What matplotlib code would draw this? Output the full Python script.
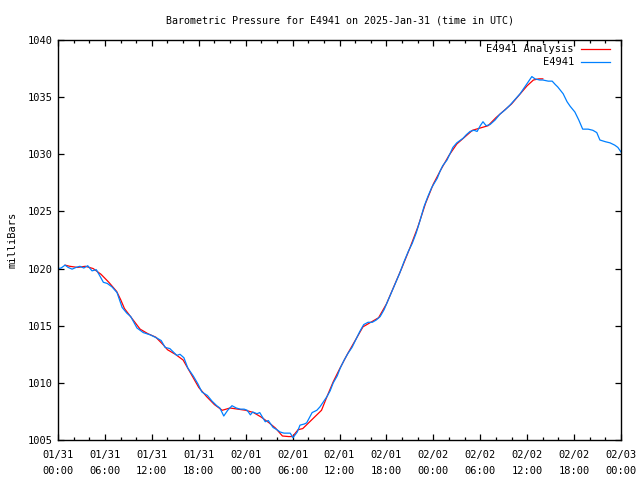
import matplotlib
matplotlib.use("Agg")
import matplotlib.pyplot as plt
from matplotlib.ticker import MultipleLocator

plt.rcParams['font.family'] = ['DejaVu Sans Mono']
plt.rcParams['font.size'] = 7.5

# station readings (hours since 01/31 00:00 UTC, mb)
obs_hours = [0.0, 0.4, 0.9, 1.3, 1.8, 2.3, 2.8, 3.3, 3.8, 4.35, 4.9, 5.4, 5.8, 6.3, 6.9,
             7.55, 8.2, 8.8, 9.3, 10.1, 10.9, 11.8, 12.7, 13.2, 13.7, 14.3, 15.2, 15.6,
             16.1, 16.6, 17.3, 17.9, 18.4, 19.1, 19.7, 20.3, 20.7, 21.2, 21.7, 22.25,
             22.8, 23.3, 23.8, 24.2, 24.6, 24.9, 25.45, 25.8, 26.5, 26.9, 27.5, 28.0,
             28.4, 28.9, 29.3, 29.7, 30.05, 30.6, 30.95, 31.5, 31.8, 32.5, 33.1, 33.5,
             34.0, 34.4, 34.8, 35.2, 35.7, 36.1, 36.6, 37.1, 37.6, 38.1, 38.6, 39.1,
             39.65, 40.2, 40.7, 41.2, 41.7, 42.2, 42.7, 43.2, 43.7, 44.25, 44.8, 45.3,
             45.8, 46.3, 46.8, 47.3, 47.8, 48.5, 48.85, 49.2, 49.75, 50.1, 50.5, 51.0,
             51.4, 51.8, 52.2, 52.7, 53.2, 53.6, 54.0, 54.35, 54.75, 55.25, 55.9, 56.5,
             57.2, 57.8, 58.45, 59.1, 59.6, 60.0, 60.4, 60.6, 61.0, 61.6, 62.0, 62.7,
             63.2, 63.6, 63.9, 64.6, 65.1, 65.5, 66.1, 66.6, 67.1, 67.8, 68.4, 68.9,
             69.3, 70.0, 70.6, 71.2, 71.6, 72.0]
obs_mb = [1020.0, 1020.05, 1020.3, 1020.1, 1019.95, 1020.1, 1020.2, 1020.05, 1020.25,
          1019.8, 1019.9, 1019.3, 1018.8, 1018.7, 1018.4, 1017.9, 1016.6, 1016.1, 1015.8,
          1014.8, 1014.4, 1014.2, 1013.9, 1013.7, 1013.1, 1013.0, 1012.4, 1012.5, 1012.2,
          1011.3, 1010.6, 1009.9, 1009.2, 1008.9, 1008.4, 1008.0, 1007.8, 1007.1, 1007.6,
          1008.0, 1007.8, 1007.7, 1007.7, 1007.6, 1007.2, 1007.45, 1007.3, 1007.4, 1006.6,
          1006.7, 1006.1, 1005.9, 1005.7, 1005.6, 1005.6, 1005.6, 1005.2, 1005.7, 1006.3,
          1006.4, 1006.5, 1007.4, 1007.6, 1007.9, 1008.4, 1008.8, 1009.3, 1010.0, 1010.6,
          1011.3, 1012.0, 1012.6, 1013.1, 1013.8, 1014.5, 1015.1, 1015.3, 1015.3, 1015.5,
          1015.8, 1016.4, 1017.2, 1018.0, 1018.8, 1019.6, 1020.6, 1021.5, 1022.2, 1023.1,
          1024.2, 1025.4, 1026.3, 1027.1, 1027.9, 1028.5, 1029.0, 1029.5, 1030.0, 1030.6,
          1031.0, 1031.2, 1031.4, 1031.7, 1032.0, 1032.1, 1032.0, 1032.5, 1032.85, 1032.5,
          1032.6, 1033.0, 1033.5, 1033.9, 1034.3, 1034.8, 1035.3, 1035.8, 1036.2, 1036.6,
          1036.8, 1036.6, 1036.5, 1036.5, 1036.4, 1036.4, 1036.1, 1035.9, 1035.3, 1034.6,
          1034.2, 1033.7, 1033.0, 1032.2, 1032.2, 1032.1, 1031.9, 1031.25, 1031.1, 1031.0,
          1030.8, 1030.6, 1030.2]

# analysis series
ana_hours = [0.9, 1.5, 2.5, 3.5, 4.5, 5.5, 6.5, 7.5, 8.0, 8.5, 9.5, 10.5, 11.5, 12.5,
             13.5, 14.0, 15, 16, 17, 18, 19, 20, 21, 22, 23, 24, 25, 26, 27, 27.8, 28.7,
             29.5, 30.0, 30.7, 31.3, 32.2, 32.8, 33.7, 34.4, 35.2, 36, 37, 38, 39, 40,
             41, 42, 43, 44, 45, 46, 47, 48, 49, 50, 51, 52, 53, 54, 55, 56, 57, 58, 59,
             60, 60.8, 61.5, 62.0]
ana_mb = [1020.3, 1020.2, 1020.1, 1020.2, 1020.0, 1019.5, 1018.8, 1018.0, 1017.3, 1016.5,
          1015.6, 1014.7, 1014.3, 1014.0, 1013.3, 1012.9, 1012.5, 1012.0, 1010.8, 1009.6,
          1008.8, 1008.1, 1007.6, 1007.8, 1007.7, 1007.6, 1007.4, 1007.0, 1006.5, 1006.05,
          1005.35, 1005.3, 1005.3, 1005.9, 1006.0, 1006.6, 1007.0, 1007.6, 1008.8, 1010.1,
          1011.2, 1012.5, 1013.7, 1014.9, 1015.3, 1015.7, 1016.9, 1018.5, 1020.1, 1021.8,
          1023.6, 1025.7, 1027.4, 1028.7, 1029.9, 1030.9, 1031.5, 1032.1, 1032.3, 1032.5,
          1033.2, 1033.8, 1034.4, 1035.2, 1036.0, 1036.5, 1036.6, 1036.6]

tick_hours = list(range(0, 73, 6))
tick_labels = ["01/31\n00:00", "01/31\n06:00", "01/31\n12:00", "01/31\n18:00",
               "02/01\n00:00", "02/01\n06:00", "02/01\n12:00", "02/01\n18:00",
               "02/02\n00:00", "02/02\n06:00", "02/02\n12:00", "02/02\n18:00",
               "02/03\n00:00"]

red = '#ff0000'
blue = '#0080ff'

fig = plt.figure(figsize=(6.4, 4.8), dpi=100)
ax = fig.add_axes([58/640, 40/480, 563/640, 400/480])

ax.plot(ana_hours, ana_mb, color=red, lw=0.9)
ax.plot(obs_hours, obs_mb, color=blue, lw=0.9)

ax.set_xlim(0, 72)
ax.set_ylim(1005, 1040)
ax.set_xticks(tick_hours)
ax.set_xticklabels(tick_labels, linespacing=1.75)
ax.xaxis.set_minor_locator(MultipleLocator(2))
ax.yaxis.set_major_locator(MultipleLocator(5))

ax.tick_params(which='both', direction='in', top=True, right=True, width=0.9)
ax.tick_params(which='major', length=4, pad=7)
ax.tick_params(which='minor', length=2)
ax.tick_params(axis='y', pad=4)
for s in ax.spines.values():
    s.set_linewidth(1.0)

ax.set_ylabel("milliBars", labelpad=7)
ax.set_title("Barometric Pressure for E4941 on 2025-Jan-31 (time in UTC)",
             fontsize=7.2, pad=12)

# key, top right inside the frame
for i, (name, col) in enumerate([("E4941 Analysis", red), ("E4941", blue)]):
    yk = 1 - (9 + 13 * i) / 400
    ax.text(1 - 47/563, yk, name, transform=ax.transAxes, ha='right', va='center')
    ax.plot([1 - 40/563, 1 - 11/563], [yk, yk], transform=ax.transAxes, color=col, lw=0.9)

fig.savefig("out.png", dpi=100)
